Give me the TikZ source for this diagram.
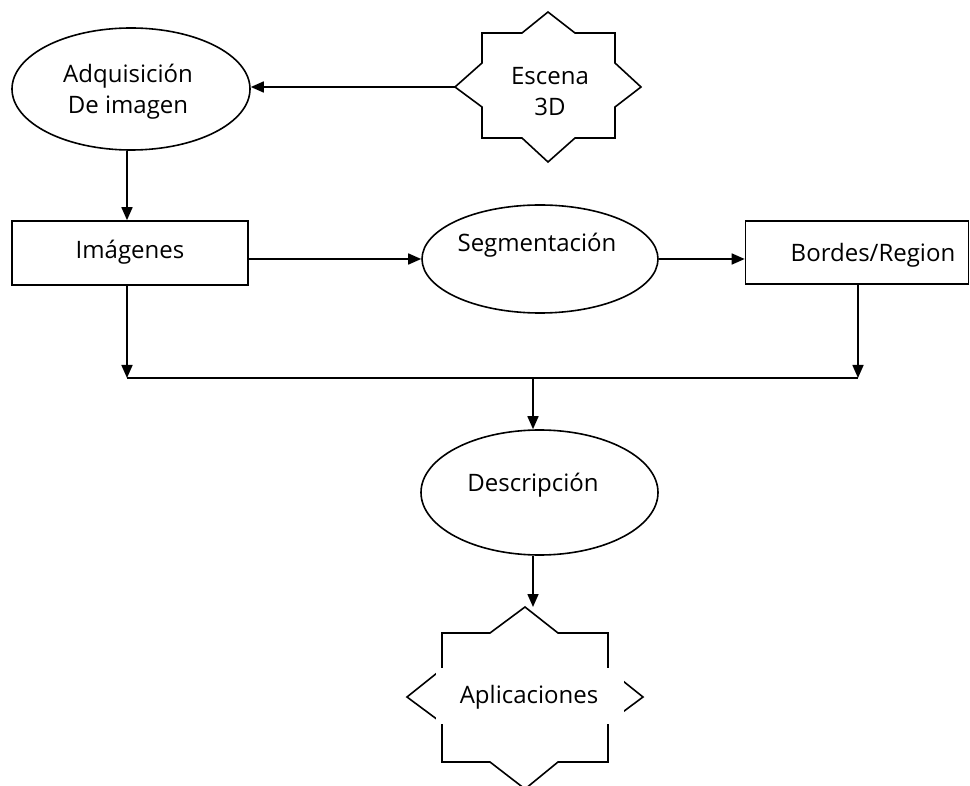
\documentclass[tikz,border=0pt]{standalone}
\usepackage{fontspec}
\setmainfont{Open Sans}
\usetikzlibrary{arrows.meta,shapes.geometric,calc}
\begin{document}
\begin{tikzpicture}[x=1pt,y=-1pt, line width=1.6pt,
  >={Triangle[length=13pt,width=11pt]},
  ell/.style={draw, ellipse, inner sep=0pt},
  box/.style={draw, rectangle, inner sep=0pt},
  lbl/.style={font=\fontsize{24}{31}\selectfont, align=center, inner sep=0pt, text=black},
  star/.style={draw, line join=miter},
  conn/.style={->}]
\useasboundingbox (0,0) rectangle (970,786);
\clip (0,0) rectangle (970,786);

% Escena 3D star
\draw[star] (482,33) -- (522,33) -- (548,12) -- (575,33) -- (615,33) -- (615,63) -- (641,87) -- (615,107) -- (615,138) -- (575,138) -- (548,162) -- (522,138) -- (482,138) -- (482,107) -- (455,87) -- (482,63) -- cycle;
\coordinate (escW) at (455,87);
\node[lbl] (esc) at (550,92) {Escena\\3D};

% Adquisicion
\node[ell, minimum width=238pt, minimum height=122pt] (adq) at (131,89) {};
\node[lbl] (adqt) at (128,92) {Adquisición\\De imagen};

% Imagenes
\node[box, minimum width=236pt, minimum height=64pt] (img) at (130,253) {};
\node[lbl] (imgt) at (130,252) {Imágenes};

% Segmentacion
\node[ell, minimum width=236pt, minimum height=108pt] (seg) at (540,259) {};
\node[lbl] (segt) at (537,245) {Segmentación};

% Bordes/Region
\node[box, minimum width=223pt, minimum height=63pt] (bor) at (857,252.5) {};
\node[lbl] (bort) at (873,255) {Bordes/Region};

% Descripcion
\node[ell, minimum width=237pt, minimum height=125pt] (desc) at (539.5,492.5) {};
\node[lbl] (desct) at (533,485) {Descripción};

% Aplicaciones star
\draw[star] (442,633) -- (490,633) -- (525,607) -- (558,633) -- (608,633) -- (608,669) -- (643,697) -- (608,723) -- (608,762) -- (558,762) -- (525,789) -- (490,762) -- (442,762) -- (442,723) -- (407,697) -- (442,669) -- cycle;
\coordinate (aplN) at (525,607);
\fill[white] (436,668) rectangle (624,724);
\node[lbl] (apl) at (529,697) {Aplicaciones};

% bus coordinates
\coordinate (busL) at (127,378);
\coordinate (busR) at (858,378);
\coordinate (busM) at (533,378);

% connectors
\draw[conn] (escW) -- (adq.east |- escW);
\draw[conn] (busL |- adq.south) -- (busL |- img.north);
\draw[conn] (img.east |- seg.west) -- (seg.west);
\draw[conn] (seg.east) -- (bor.west |- seg.east);
\draw[conn] (busL |- img.south) -- (busL);
\draw[conn] (busR |- bor.south) -- (busR);
\draw (busL) -- (busR);
\draw[conn] (busM) -- (busM |- desc.north);
\draw[conn] (busM |- desc.south) -- (busM |- aplN);
\end{tikzpicture}
\end{document}
